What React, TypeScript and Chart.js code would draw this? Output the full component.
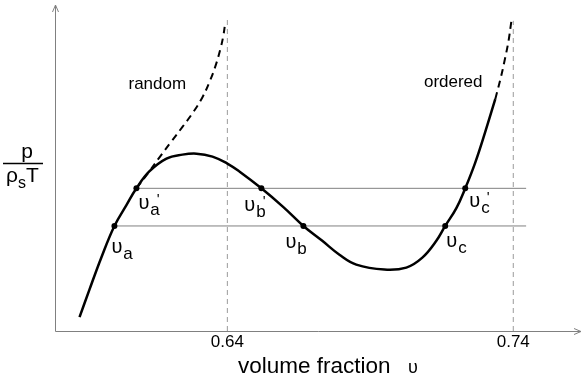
import { useEffect, useRef } from "react";
import { Chart, registerables } from "chart.js";

Chart.register(...registerables);

// ---- data ----
const xTickValues = [0.64, 0.74];
const xTickLabels = ["0.64", "0.74"];
const xAxisTitle = "volume fraction";
const xAxisSymbol = "υ";
const yLabelTop = "p";
const yLabelBottom = "ρ";
const yLabelSub = "s";
const yLabelEnd = "T";

// stable/metastable isotherm (solid)
const curveX = [0.5883, 0.5918, 0.5959, 0.6005, 0.6047, 0.6082, 0.6127, 0.6187, 0.6243, 0.6292, 0.6348, 0.64, 0.6442, 0.6519, 0.6596, 0.6666, 0.6732, 0.6792, 0.6851, 0.6949, 0.7026, 0.7082, 0.7131, 0.7162, 0.7201, 0.7232, 0.7267, 0.7302, 0.7337];
const curveY = [0.14, 0.42, 0.74, 1.06, 1.27, 1.44, 1.61, 1.74, 1.78, 1.79, 1.76, 1.69, 1.61, 1.44, 1.25, 1.06, 0.91, 0.77, 0.67, 0.62, 0.64, 0.74, 0.91, 1.06, 1.24, 1.44, 1.7, 2.01, 2.34];

// random branch (dashed)
const randomX = [0.6082, 0.6127, 0.6162, 0.6201, 0.6243, 0.6281, 0.6313, 0.6337, 0.6358, 0.6376, 0.6386, 0.6393];
const randomY = [1.44, 1.61, 1.75, 1.9, 2.06, 2.21, 2.36, 2.51, 2.67, 2.85, 2.98, 3.12];

// ordered branch (dashed)
const orderedX = [0.7337, 0.7355, 0.7369, 0.7383, 0.7393];
const orderedY = [2.34, 2.54, 2.72, 2.92, 3.12];

// tie lines
const levelY = [1.44, 1.06];
const levelStartX = [0.6082, 0.6005];
const levelEndX = [0.7445, 0.7445];

// packing limits
const limitX = [0.64, 0.74];
const limitTopY = [3.15, 3.13];

// marked points
const pointNames = ["a", "a", "b", "b", "c", "c"];
const pointPrimed = [true, false, true, false, true, false];
const pointX = [0.6082, 0.6005, 0.6519, 0.6666, 0.7232, 0.7162];
const pointY = [1.44, 1.06, 1.44, 1.06, 1.44, 1.06];

// branch names
const branchNames = ["random", "ordered"];
const branchX = [0.6155, 0.719];
const branchY = [2.49, 2.51];

// ---- styles ----
const FONT = '"Liberation Sans", Arial, sans-serif';
const GRAY = "#808080";
const LIGHT_GRAY = "#9a9a9a";
// pixel offsets of the υ-label from its point: [dx, dy(baseline)]
const labelOffsets = [
  [2, 21],
  [-3, 27],
  [-17, 23],
  [-18, 22],
  [4, 19],
  [1, 21],
];

const zip = (xs: number[], ys: number[]) => xs.map((x, i) => ({ x, y: ys[i] }));

const decor = {
  id: "decor",
  beforeDatasetsDraw(chart: any) {
    const { ctx, chartArea } = chart;
    const l = Math.round(chartArea.left) + 0.5;
    const b = Math.round(chartArea.bottom) + 0.5;
    const t = chartArea.top;
    const r = chartArea.right;
    ctx.save();
    ctx.strokeStyle = GRAY;
    ctx.lineWidth = 1;
    ctx.beginPath();
    ctx.moveTo(l, b);
    ctx.lineTo(l, t);
    ctx.moveTo(l, b);
    ctx.lineTo(r, b);
    ctx.moveTo(l - 3, t + 7);
    ctx.lineTo(l, t);
    ctx.lineTo(l + 3, t + 7);
    ctx.moveTo(r - 7, b - 3);
    ctx.lineTo(r, b);
    ctx.lineTo(r - 7, b + 3);
    ctx.stroke();
    ctx.restore();
  },
  afterDatasetsDraw(chart: any) {
    const { ctx, chartArea } = chart;
    const xs = chart.scales.x;
    const ys = chart.scales.y;
    ctx.save();
    ctx.fillStyle = "#000";
    ctx.textAlign = "left";
    ctx.textBaseline = "alphabetic";
    pointNames.forEach((name, i) => {
      const px = xs.getPixelForValue(pointX[i]);
      const py = ys.getPixelForValue(pointY[i]);
      const x0 = px + labelOffsets[i][0];
      const base = py + labelOffsets[i][1];
      ctx.font = `20px ${FONT}`;
      ctx.fillText("υ", x0, base);
      const w = ctx.measureText("υ").width;
      ctx.font = `17px ${FONT}`;
      ctx.fillText(name, x0 + w + 1, base + 6);
      const sw = ctx.measureText(name).width;
      if (pointPrimed[i]) {
        ctx.font = `15px ${FONT}`;
        ctx.fillText("'", x0 + w + sw - 2, base - 5);
      }
    });
    ctx.font = `17px ${FONT}`;
    ctx.textAlign = "center";
    ctx.textBaseline = "middle";
    branchNames.forEach((n, i) => {
      ctx.fillText(n, xs.getPixelForValue(branchX[i]), ys.getPixelForValue(branchY[i]));
    });
    const cx = chartArea.left - 28;
    ctx.textAlign = "center";
    ctx.textBaseline = "alphabetic";
    ctx.font = `21px ${FONT}`;
    ctx.fillText(yLabelTop, cx, 158);
    ctx.strokeStyle = "#000";
    ctx.lineWidth = 1.5;
    ctx.beginPath();
    ctx.moveTo(cx - 24, 163.5);
    ctx.lineTo(cx + 16, 163.5);
    ctx.stroke();
    ctx.textAlign = "left";
    let lx = cx - 21;
    ctx.font = `21px ${FONT}`;
    ctx.fillText(yLabelBottom, lx, 182);
    lx += ctx.measureText(yLabelBottom).width;
    ctx.font = `16px ${FONT}`;
    ctx.fillText(yLabelSub, lx, 188);
    lx += ctx.measureText(yLabelSub).width;
    ctx.font = `21px ${FONT}`;
    ctx.fillText(yLabelEnd, lx, 182);
    ctx.font = `22.5px ${FONT}`;
    ctx.fillText(xAxisTitle, 238, 373);
    ctx.font = `18px ${FONT}`;
    ctx.fillText(xAxisSymbol, 408, 373);
    ctx.restore();
  },
};

export default function App() {
  const ref = useRef<HTMLCanvasElement | null>(null);
  useEffect(() => {
    if (!ref.current) return;
    const datasets: any[] = [
      {
        data: zip(pointX, pointY),
        showLine: false,
        pointRadius: 3,
        pointBackgroundColor: "#000",
        pointBorderWidth: 0,
        order: 0,
      },
      {
        data: zip(curveX, curveY),
        showLine: true,
        borderColor: "#000",
        borderWidth: 2.5,
        pointRadius: 0,
        tension: 0.4,
        order: 1,
      },
      {
        data: zip(randomX, randomY),
        showLine: true,
        borderColor: "#000",
        borderWidth: 2,
        borderDash: [7, 5],
        pointRadius: 0,
        tension: 0.4,
        order: 1,
      },
      {
        data: zip(orderedX, orderedY),
        showLine: true,
        borderColor: "#000",
        borderWidth: 2,
        borderDash: [7, 5],
        pointRadius: 0,
        tension: 0.4,
        order: 1,
      },
    ];
    levelY.forEach((y, i) => {
      datasets.push({
        data: [
          { x: levelStartX[i], y },
          { x: levelEndX[i], y },
        ],
        showLine: true,
        borderColor: GRAY,
        borderWidth: 1,
        pointRadius: 0,
        order: 5,
      });
    });
    limitX.forEach((x, i) => {
      datasets.push({
        data: [
          { x, y: 0 },
          { x, y: limitTopY[i] },
        ],
        showLine: true,
        borderColor: LIGHT_GRAY,
        borderWidth: 1,
        borderDash: [5, 4],
        pointRadius: 0,
        order: 6,
      });
    });

    const chart = new Chart(ref.current, {
      type: "scatter",
      data: { datasets },
      options: {
        animation: false,
        responsive: false,
        devicePixelRatio: 1,
        layout: { padding: { left: 55, right: 2, top: 5, bottom: 26 } },
        plugins: { legend: { display: false }, tooltip: { enabled: false } },
        scales: {
          x: {
            type: "linear",
            min: 0.57972,
            max: 0.76369,
            grid: { display: false, drawTicks: false },
            border: { display: false },
            afterBuildTicks: (scale: any) => {
              scale.ticks = xTickValues.map((v) => ({ value: v }));
            },
            ticks: {
              padding: 3,
              color: "#000",
              font: { size: 17, family: FONT, lineHeight: 1 },
              maxRotation: 0,
              callback: (v: any) => {
                const i = xTickValues.indexOf(Number(v));
                return i >= 0 ? xTickLabels[i] : "";
              },
            },
          },
          y: {
            type: "linear",
            display: false,
            min: 0,
            max: 3.29,
          },
        },
      },
      plugins: [decor],
    });
    return () => chart.destroy();
  }, []);
  return (
    <div style={{ position: "fixed", left: 0, top: 0, width: 585, height: 380, background: "#fff" }}>
      <canvas ref={ref} width={585} height={380} style={{ display: "block" }} />
    </div>
  );
}
